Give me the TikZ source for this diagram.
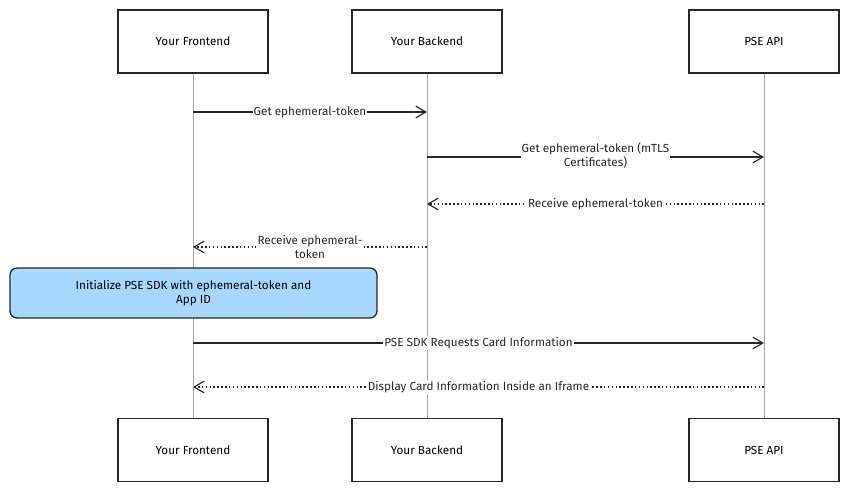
\documentclass[tikz,border=0pt]{standalone}
\usepackage{fontspec}
\setmainfont{Fira Sans}
\usetikzlibrary{arrows.meta,positioning}
\definecolor{notefill}{HTML}{A6D8FF}
\tikzset{
    actor/.style={draw=black!85,line width=1.1pt,fill=white,minimum width=150*0.03cm,minimum height=63*0.03cm,font=\fontsize{10}{12}\selectfont},
    life/.style={draw=black!35,line width=0.6pt},
    msg/.style={line width=1.3pt,black!85,-{Straight Barb[length=3mm,width=3.5mm,line width=1pt]}},
    reply/.style={line width=1.3pt,black!85,dotted,-{Straight Barb[length=3mm,width=3.5mm,line width=1pt]}},
    lbl/.style={fill=white,inner sep=1pt,font=\fontsize{10}{12}\selectfont,align=center},
    note/.style={draw=black!85,line width=1.1pt,fill=notefill,rounded corners=6pt,minimum width=367*0.03cm,minimum height=50*0.03cm,align=center,font=\fontsize{10}{12}\selectfont}
}
\begin{document}
\begin{tikzpicture}[x=0.03cm,y=-0.03cm]
    \useasboundingbox (0,0) rectangle (850,493);
    % Actors (top and bottom)
    \foreach \n/\x/\t in {fe/193/Your Frontend,be/427/Your Backend,api/764/PSE API} {
        \node[actor] (\n top) at (\x,41.5) {\t};
        \node[actor] (\n bot) at (\x,450) {\t};
        \draw[life] (\n top) -- (\n bot);
        \foreach \k/\y in {1/112,2/157,3/204,4/247,6/343,7/387} {
            \coordinate (\n\k) at (\x,\y);
        }
    }
    % Messages
    \draw[msg] (fe1) -- (be1) node[lbl,midway] {Get ephemeral-token};
    \draw[msg] (be2) -- (api2) node[lbl,midway,yshift=0.05cm] {Get ephemeral-token (mTLS\\Certificates)};
    \draw[reply] (api3) -- (be3) node[lbl,midway] {Receive ephemeral-token};
    \draw[reply] (be4) -- (fe4) node[lbl,midway] {Receive ephemeral-\\token};
    % Note
    \node[note] (init) at (193.5,293) {Initialize PSE SDK with ephemeral-token and\\App ID};
    \draw[msg] (fe6) -- (api6) node[lbl,midway] {PSE SDK Requests Card Information};
    \draw[reply] (api7) -- (fe7) node[lbl,midway] {Display Card Information Inside an Iframe};
\end{tikzpicture}
\end{document}
